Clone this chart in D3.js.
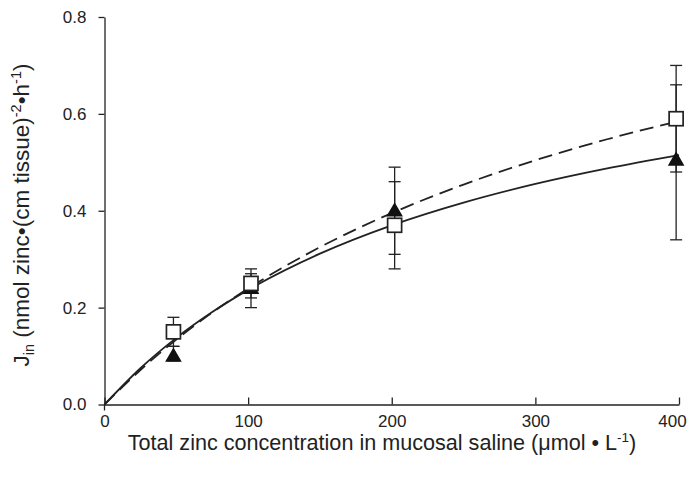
<!DOCTYPE html>
<html><head><meta charset="utf-8">
<script src="https://cdn.jsdelivr.net/npm/d3@7"></script>
<style>body{margin:0;background:#fff}svg{display:block;font-family:"Liberation Sans",Arial,sans-serif}</style>
</head><body><svg id="c" width="689" height="487"></svg>
<script>
const xTicks = [0, 100, 200, 300, 400];
const yTicks = [0.0, 0.2, 0.4, 0.6, 0.8];
const conc = [48, 102, 202, 398];
const squareVals = [0.15, 0.25, 0.37, 0.59];
const squareErrHi = [0.18, 0.28, 0.46, 0.70];
const squareErrLo = [0.12, 0.22, 0.28, 0.48];
const triVals = [0.10, 0.24, 0.40, 0.505];
const triErrHi = [0.12, 0.27, 0.49, 0.66];
const triErrLo = [0.09, 0.20, 0.31, 0.34];
const curveX = [0, 25, 50, 75, 100, 150, 200, 250, 300, 350, 400];
const solidCurve = [0, 0.0748, 0.1375, 0.1908, 0.2366, 0.3114, 0.3699, 0.4168, 0.4554, 0.4875, 0.5150];
const dashedCurve = [0, 0.0712, 0.1340, 0.1897, 0.2395, 0.3248, 0.3951, 0.4541, 0.5043, 0.5476, 0.5852];

const svg = d3.select("#c");
const x = d3.scaleLinear().domain([0, 400]).range([104.5, 679]);
const y = d3.scaleLinear().domain([0, 0.8]).range([404.5, 17]);
const FONT = "Liberation Sans, Arial, sans-serif";

// axes
const xa = svg.append("g").attr("transform", `translate(0,${y(0)})`)
  .call(d3.axisBottom(x).tickValues(xTicks).tickSizeInner(-7).tickSizeOuter(0).tickPadding(10).tickFormat(d3.format("d")));
const ya = svg.append("g").attr("transform", `translate(${x(0)},0)`)
  .call(d3.axisLeft(y).tickValues(yTicks).tickSizeInner(6).tickSizeOuter(0).tickPadding(12).tickFormat(d3.format(".1f")));
[xa, ya].forEach(a => {
  a.selectAll("path.domain").attr("stroke", "#222").attr("stroke-width", 1.3);
  a.selectAll(".tick line").attr("stroke", "#222").attr("stroke-width", 1.3);
  a.selectAll(".tick text").attr("fill", "#222").attr("font-size", 17).attr("font-family", FONT);
});
xa.selectAll(".tick text").attr("dy", "0.71em").attr("dx", d => d === 400 ? -7 : 0);
// y axis slight extension below x-axis
svg.append("line").attr("x1", x(0)).attr("x2", x(0)).attr("y1", y(0)).attr("y2", y(0) + 6)
  .attr("stroke", "#222").attr("stroke-width", 1.3);

// curves
const lineGen = d3.line().x(d => x(d[0])).y(d => y(d[1])).curve(d3.curveMonotoneX);
svg.append("path").datum(curveX.map((v, i) => [v, dashedCurve[i]]))
  .attr("d", lineGen).attr("fill", "none").attr("stroke", "#222").attr("stroke-width", 1.8)
  .attr("stroke-dasharray", "14,7");
svg.append("path").datum(curveX.map((v, i) => [v, solidCurve[i]]))
  .attr("d", lineGen).attr("fill", "none").attr("stroke", "#222").attr("stroke-width", 1.8);

// error bars
function errBars(lo, hi) {
  const g = svg.append("g").attr("stroke", "#222").attr("stroke-width", 1.3);
  conc.forEach((c, i) => {
    const cx = x(c);
    g.append("line").attr("x1", cx).attr("x2", cx).attr("y1", y(lo[i])).attr("y2", y(hi[i]));
    g.append("line").attr("x1", cx - 6).attr("x2", cx + 6).attr("y1", y(lo[i])).attr("y2", y(lo[i]));
    g.append("line").attr("x1", cx - 6).attr("x2", cx + 6).attr("y1", y(hi[i])).attr("y2", y(hi[i]));
  });
}
errBars(triErrLo, triErrHi);
errBars(squareErrLo, squareErrHi);

// triangles
const tri = d3.symbol().type(d3.symbolTriangle).size(120);
svg.append("g").selectAll("path").data(conc).join("path")
  .attr("d", tri).attr("transform", (d, i) => `translate(${x(d)},${y(triVals[i]) + 1})`)
  .attr("fill", "#111");
// squares
svg.append("g").selectAll("rect").data(conc).join("rect")
  .attr("x", d => x(d) - 7).attr("y", (d, i) => y(squareVals[i]) - 7)
  .attr("width", 14).attr("height", 14)
  .attr("fill", "#fff").attr("stroke", "#222").attr("stroke-width", 1.7);

// x title
const xt = svg.append("text").attr("x", 382).attr("y", 450).attr("text-anchor", "middle")
  .attr("font-size", 21.6).attr("fill", "#222").attr("font-family", FONT);
xt.append("tspan").text("Total zinc concentration in mucosal saline (μmol • L");
xt.append("tspan").attr("dy", -8).attr("font-size", 13.5).text("-1");
xt.append("tspan").attr("dy", 8).text(")");

// y title
const yt = svg.append("text").attr("transform", "translate(29,215) rotate(-90)")
  .attr("text-anchor", "middle").attr("font-size", 22.5).attr("fill", "#222").attr("font-family", FONT);
yt.append("tspan").text("J");
yt.append("tspan").attr("dy", 5).attr("font-size", 14.5).text("in");
yt.append("tspan").attr("dy", -5).text(" (nmol zinc•(cm tissue)");
yt.append("tspan").attr("dy", -8).attr("font-size", 14.5).text("-2");
yt.append("tspan").attr("dy", 8).text("•h");
yt.append("tspan").attr("dy", -8).attr("font-size", 14.5).text("-1");
yt.append("tspan").attr("dy", 8).text(")");
</script></body></html>
